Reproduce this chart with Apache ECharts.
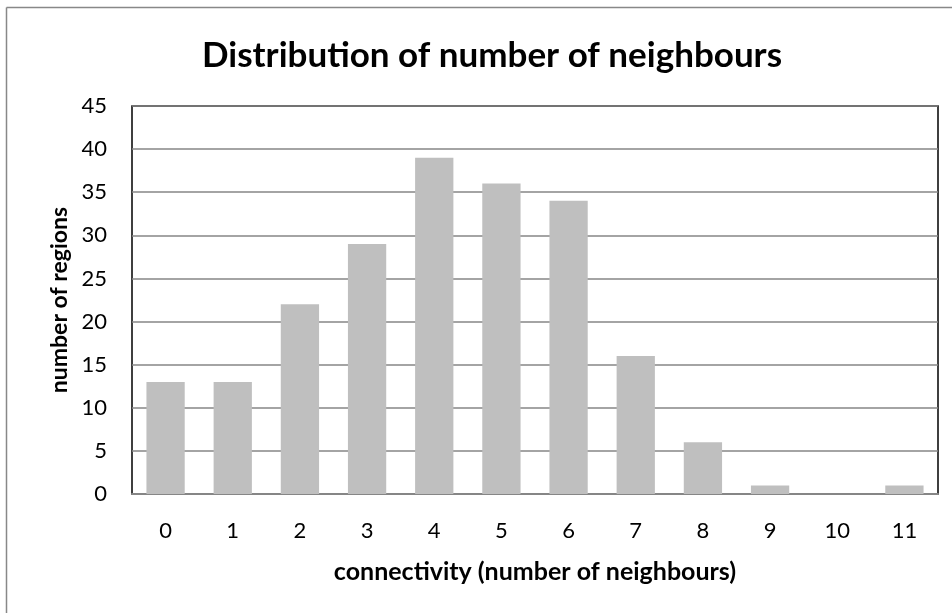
<!DOCTYPE html>
<html>
<head>
<meta charset="utf-8">
<script src="https://cdn.jsdelivr.net/npm/echarts@6/dist/echarts.min.js"></script>
<style>
html,body{margin:0;padding:0;background:#fff;}
#chart{width:952px;height:613px;}
</style>
</head>
<body>
<div id="chart"></div>
<script>
// Neighbour counts and how many regions have each
const categories = ['0','1','2','3','4','5','6','7','8','9','10','11'];
const regionCounts = [13, 13, 22, 29, 39, 36, 34, 16, 6, 1, 0, 1];
const yTicks = [0, 5, 10, 15, 20, 25, 30, 35, 40, 45];

const FONT = 'Lato, "Open Sans", sans-serif';
const chart = echarts.init(document.getElementById('chart'), null, {renderer: 'canvas'});

// plot frame edges in pixels
const plotLeft = 132, plotTop = 106, plotRight = 938, plotBottom = 494;

chart.setOption({
  animation: false,
  backgroundColor: '#fff',
  title: {
    text: 'Distribution of number of neighbours',
    left: 487, top: 33, textAlign: 'center',
    textStyle: {fontFamily: FONT, fontSize: 35, fontWeight: 'bold', color: '#000'}
  },
  grid: {left: plotLeft, top: plotTop, width: plotRight - plotLeft, height: plotBottom - plotTop,
         containLabel: false, show: true, borderColor: '#000', borderWidth: 1.5},
  xAxis: {
    type: 'category',
    data: categories,
    name: 'connectivity (number of neighbours)',
    nameLocation: 'middle',
    nameGap: 65,
    nameTextStyle: {fontFamily: FONT, fontSize: 25, fontWeight: 'bold', color: '#000'},
    axisLine: {lineStyle: {color: '#868686', width: 2}},
    axisTick: {show: false},
    axisLabel: {fontFamily: FONT, fontSize: 22, color: '#000', margin: 26}
  },
  yAxis: {
    type: 'value',
    min: yTicks[0], max: yTicks[yTicks.length - 1], interval: 5,
    name: 'number of regions',
    nameLocation: 'middle',
    nameGap: 57,
    nameTextStyle: {fontFamily: FONT, fontSize: 23, fontWeight: 'bold', color: '#000'},
    axisLine: {show: false},
    axisTick: {show: false},
    axisLabel: {fontFamily: FONT, fontSize: 22, color: '#000', margin: 25},
    splitLine: {lineStyle: {color: '#868686', width: 1.5}}
  },
  series: [{
    type: 'bar',
    data: regionCounts,
    barWidth: '57%',
    itemStyle: {color: '#bfbfbf'}
  }],
  graphic: [
    {type: 'line', shape: {x1: 6.5, y1: 7.5, x2: 952, y2: 7.5}, style: {stroke: '#888', lineWidth: 1.5}},
    {type: 'line', shape: {x1: 6.5, y1: 7.5, x2: 6.5, y2: 613}, style: {stroke: '#888', lineWidth: 1.5}}
  ]
});
</script>
</body>
</html>
